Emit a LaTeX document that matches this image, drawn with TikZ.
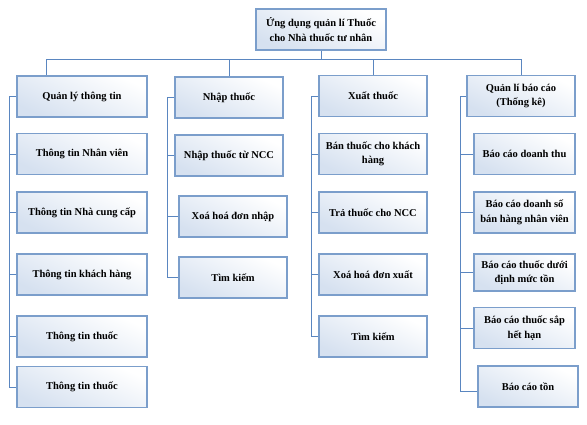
\documentclass[tikz,border=0pt]{standalone}
\usepackage{fontspec}
\setmainfont{Liberation Serif}
\definecolor{boxb}{HTML}{7B9ECB}
\definecolor{boxf}{HTML}{D6E1F0}
\definecolor{linec}{HTML}{5A86C0}
\begin{document}
\begin{tikzpicture}[x=1pt,y=-1pt,
  box/.style={draw=boxb, line width=1.3pt, top color=white, bottom color=boxf, shading angle=-25,
    inner sep=0pt, align=center, font=\fontsize{10.5}{14.5}\selectfont\bfseries},
  w130/.style={box, minimum width=130pt, minimum height=41pt},
  w108/.style={box, minimum width=108pt, minimum height=41pt},
  w101/.style={box, minimum width=101pt, minimum height=41pt},
  conn/.style={draw=linec, line width=0.9pt}]
\useasboundingbox (0,0) rectangle (587,424);
% root
\node[w130] (root) at (321,29.5) {Ứng dụng quản lí Thuốc\\cho Nhà thuốc tư nhân};
% level 1
\node[w130] (p1) at (82,96.5) {Quản lý thông tin};
\node[w108] (p2) at (229,97.5) {Nhập thuốc};
\node[w108] (p3) at (373,96) {Xuất thuốc};
\node[w108] (p4) at (521,96) {Quản lí báo cáo\\(Thống kê)};
% column 1
\node[w130] (c11) at (82,154) {Thông tin Nhân viên};
\node[w130] (c12) at (82,212.5) {Thông tin Nhà cung cấp};
\node[w130] (c13) at (82,274.5) {Thông tin khách hàng};
\node[w130] (c14) at (82,336.5) {Thông tin thuốc};
\node[w130] (c15) at (82,387) {Thông tin thuốc};
% column 2
\node[w108] (c21) at (229,155.5) {Nhập thuốc từ NCC};
\node[w108] (c22) at (233,216.5) {Xoá hoá đơn nhập};
\node[w108] (c23) at (233,277.5) {Tìm kiếm};
% column 3
\node[w108] (c31) at (373,154) {Bán thuốc cho khách\\hàng};
\node[w108] (c32) at (373,212.5) {Trả thuốc cho NCC};
\node[w108] (c33) at (373,274.5) {Xoá hoá đơn xuất};
\node[w108] (c34) at (373,336.5) {Tìm kiếm};
% column 4
\node[w101] (c41) at (524.5,154) {Báo cáo doanh thu};
\node[w101] (c42) at (524.5,212.5) {Báo cáo doanh số\\bán hàng nhân viên};
\node[w101, minimum height=37pt] (c43) at (524.5,272.5) {Báo cáo thuốc dưới\\định mức tồn};
\node[w101] (c44) at (524.5,328) {Báo cáo thuốc sắp\\hết hạn};
\node[box, minimum width=100pt, minimum height=41pt] (c45) at (528,386.5) {Báo cáo tồn};
% bus and spines
\coordinate (bus) at (0,59);
\coordinate (b1) at (46,59);
\coordinate (s1) at (9,0);
\coordinate (s2) at (167,0);
\coordinate (s3) at (311,0);
\coordinate (s4) at (460,0);
\draw[conn] (root.south) -- (root.south |- bus);
\draw[conn] (b1) -- (p4.north |- bus);
\draw[conn] (b1) -- (b1 |- p1.north);
\draw[conn] (p2.north) -- (p2.north |- bus);
\draw[conn] (p3.north) -- (p3.north |- bus);
\draw[conn] (p4.north) -- (p4.north |- bus);
% column 1 connectors
\draw[conn] (p1.west) -- (p1.west -| s1) |- (c15.west);
\foreach \n in {c11,c12,c13,c14} \draw[conn] (\n.west) -- (\n.west -| s1);
% column 2
\draw[conn] (p2.west) -- (p2.west -| s2) |- (c23.west);
\foreach \n in {c21,c22} \draw[conn] (\n.west) -- (\n.west -| s2);
% column 3
\draw[conn] (p3.west) -- (p3.west -| s3) |- (c34.west);
\foreach \n in {c31,c32,c33} \draw[conn] (\n.west) -- (\n.west -| s3);
% column 4
\draw[conn] (p4.west) -- (p4.west -| s4) |- ([yshift=-4.5pt]c45.west);
\foreach \n in {c41,c42,c43,c44} \draw[conn] (\n.west) -- (\n.west -| s4);
\end{tikzpicture}
\end{document}
